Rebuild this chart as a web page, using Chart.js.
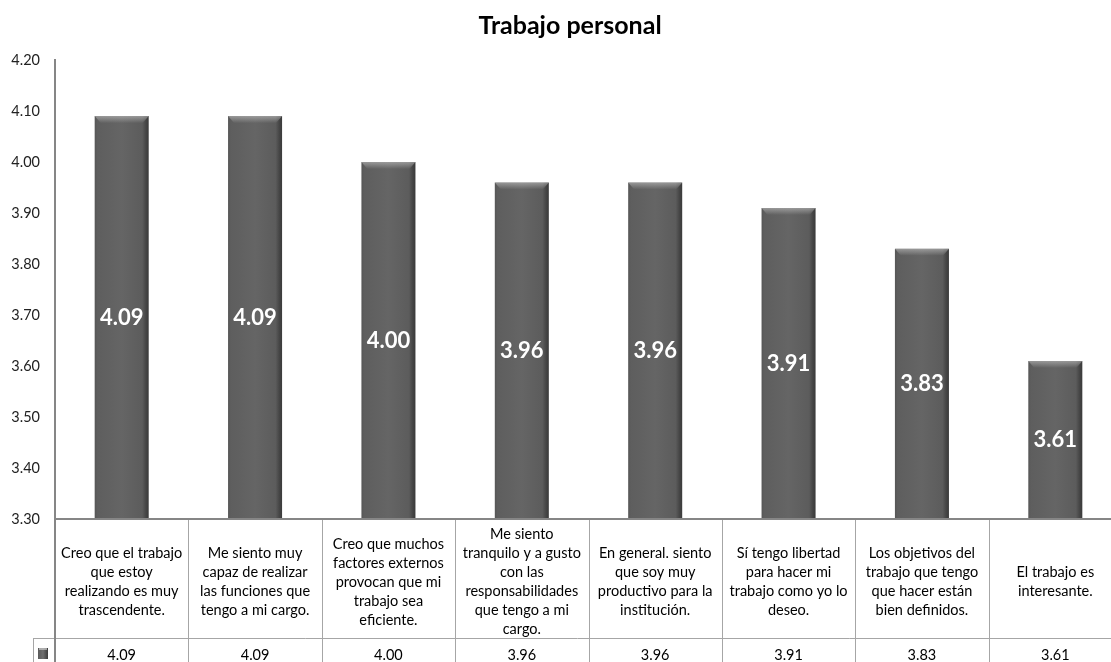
<!DOCTYPE html>
<html>
<head>
<meta charset="utf-8">
<script src="https://cdn.jsdelivr.net/npm/chart.js@4.4.0/dist/chart.umd.min.js"></script>
<style>
html,body{margin:0;padding:0;background:#fff;overflow:hidden}
#wrap{width:1122px;height:662px;position:relative}
</style>
</head>
<body>
<div id="wrap"><canvas id="chart"></canvas></div>
<script>
// Trabajo personal - promedio por afirmación
const TITLE='Trabajo personal';
const categories=[
  ['Creo que el trabajo','que estoy','realizando es muy','trascendente.'],
  ['Me siento muy','capaz de realizar','las funciones que','tengo a mi cargo.'],
  ['Creo que muchos','factores externos','provocan que mi','trabajo sea','eficiente.'],
  ['Me siento','tranquilo y a gusto','con las','responsabilidades','que tengo a mi','cargo.'],
  ['En general. siento','que soy muy','productivo para la','institución.'],
  ['Sí tengo libertad','para hacer mi','trabajo como yo lo','deseo.'],
  ['Los objetivos del','trabajo que tengo','que hacer están','bien definidos.'],
  ['El trabajo es','interesante.']
];
const values=[4.09,4.09,4.00,3.96,3.96,3.91,3.83,3.61];
const yMin=3.30,yMax=4.20,yStep=0.10;

const FONT='Lato, "Open Sans", sans-serif';
const LINE='#a6a6a6';

// bar fill: darker at the edges, a bit lighter in the middle
function barFill(c){
  const ch=c.chart,xs=ch.scales.x;
  if(!xs||!ch.chartArea)return '#606060';
  const cx=xs.getPixelForValue(c.dataIndex);
  const w=xs.width/categories.length*0.405;
  const g=ch.ctx.createLinearGradient(cx-w/2,0,cx+w/2,0);
  g.addColorStop(0,'#565656');
  g.addColorStop(0.05,'#5e5e5e');
  g.addColorStop(0.5,'#656565');
  g.addColorStop(0.88,'#5c5c5c');
  g.addColorStop(0.95,'#454545');
  g.addColorStop(1,'#3a3a3a');
  return g;
}

const tablePlugin={
  id:'tablePlugin',
  afterDatasetsDraw(chart){
    const {ctx,chartArea:a,scales:{x,y}}=chart;
    const meta=chart.getDatasetMeta(0);
    ctx.save();
    // bevel highlight at the top of each bar
    meta.data.forEach(b=>{
      const p=b.getProps(['x','y','width'],true);
      const l=p.x-p.width/2,t=p.y;
      const g=ctx.createLinearGradient(0,t,0,t+7);
      g.addColorStop(0,'rgba(200,200,200,0.55)');
      g.addColorStop(1,'rgba(200,200,200,0)');
      ctx.fillStyle=g;
      ctx.beginPath();
      ctx.moveTo(l,t);ctx.lineTo(l+p.width,t);ctx.lineTo(l+p.width-6,t+7);ctx.lineTo(l+6,t+7);ctx.closePath();
      ctx.fill();
    });
    // values inside the bars
    ctx.fillStyle='#ffffff';
    ctx.font='bold 22px '+FONT;
    ctx.textAlign='center';ctx.textBaseline='middle';
    values.forEach((v,i)=>{
      const top=y.getPixelForValue(v);
      ctx.fillText(v.toFixed(2),x.getPixelForValue(i),(top+a.bottom)/2);
    });
    // data table below the plot
    const colW=x.width/categories.length;
    const rowTop=a.bottom,rowMid=rowTop+119,rowBot=rowMid+30;
    ctx.strokeStyle=LINE;ctx.lineWidth=1;
    ctx.beginPath();
    ctx.moveTo(a.left-22,rowMid+0.5);ctx.lineTo(a.right,rowMid+0.5);
    ctx.moveTo(a.left-22+0.5,rowMid);ctx.lineTo(a.left-22+0.5,rowBot);
    for(let i=1;i<=categories.length;i++){
      const lx=Math.round(a.left+i*colW)+0.5;
      ctx.moveTo(lx,rowTop);ctx.lineTo(lx,rowBot);
    }
    ctx.stroke();
    // x axis line / top of the table
    ctx.strokeStyle='#868686';ctx.lineWidth=2;
    ctx.beginPath();
    ctx.moveTo(a.left,rowTop);ctx.lineTo(a.right,rowTop);
    ctx.moveTo(a.left,rowTop);ctx.lineTo(a.left,rowBot);
    ctx.stroke();
    ctx.fillStyle='#000';
    ctx.font='14.5px '+FONT;
    categories.forEach((lines,i)=>{
      const cx=x.getPixelForValue(i);
      const lh=19,y0=rowTop+63-(lines.length-1)*lh/2;
      lines.forEach((s,j)=>ctx.fillText(s,cx,y0+j*lh));
      ctx.fillText(values[i].toFixed(2),cx,rowMid+17);
    });
    // legend key
    const kx=a.left-17,ky=rowMid+10;
    const kg=ctx.createLinearGradient(kx,0,kx+10,0);
    kg.addColorStop(0,'#5a5a5a');kg.addColorStop(0.5,'#707070');kg.addColorStop(1,'#3c3c3c');
    ctx.fillStyle=kg;ctx.fillRect(kx,ky,10,11);
    ctx.fillStyle='rgba(220,220,220,0.6)';ctx.fillRect(kx+1,ky,8,2);
    // title
    ctx.fillStyle='#000';
    ctx.font='bold 25px '+FONT;
    ctx.textBaseline='alphabetic';
    ctx.fillText(TITLE,570,34);
    ctx.restore();
  }
};

new Chart(document.getElementById('chart'),{
  type:'bar',
  data:{labels:categories.map(c=>c.join(' ')),datasets:[{data:values,backgroundColor:barFill,borderWidth:0,barPercentage:0.405,categoryPercentage:1}]},
  options:{
    responsive:true,maintainAspectRatio:false,animation:false,
    layout:{padding:{top:60,bottom:143,left:0,right:0}},
    plugins:{legend:{display:false},tooltip:{enabled:false},title:{display:false}},
    scales:{
      x:{display:false,offset:true},
      y:{min:yMin,max:yMax,
        afterFit(s){s.width=55},
        grid:{display:false,drawTicks:false},
        border:{display:true,color:'#868686',width:2},
        ticks:{stepSize:yStep,padding:15,color:'#222',font:{family:FONT,size:14.5},callback:v=>v.toFixed(2)}}
    }
  },
  plugins:[tablePlugin]
});
</script>
</body>
</html>
